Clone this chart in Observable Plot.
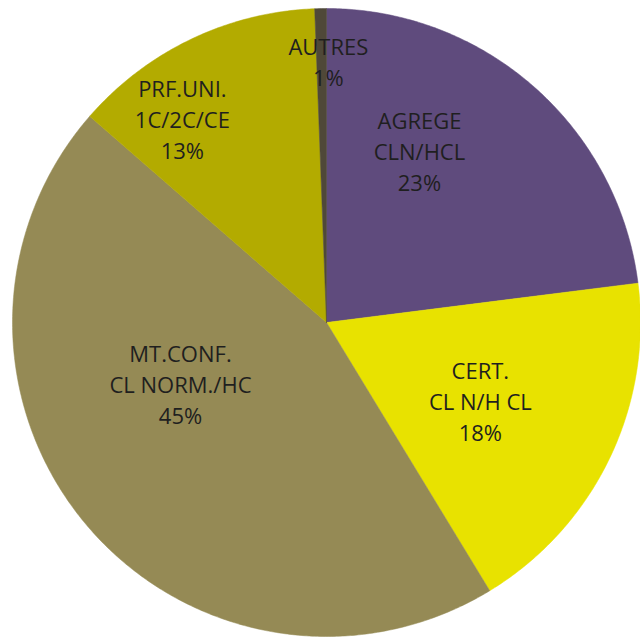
<!DOCTYPE html>
<html>
<head>
<meta charset="utf-8">
<script src="https://cdn.jsdelivr.net/npm/d3@7"></script>
<script src="https://cdn.jsdelivr.net/npm/@observablehq/plot@0.6"></script>
<style>
  html, body { margin: 0; padding: 0; background: #ffffff; }
  #chart svg { display: block; }
</style>
</head>
<body>
<div id="chart"></div>
<script>
// Data (clockwise from 12 o'clock)
const categories = ["AGREGE", "CERT", "MT.CONF", "PRF.UNI", "AUTRES"];
const labelTexts = ["AGREGE\nCLN/HCL", "CERT.\nCL N/H CL", "MT.CONF.\nCL NORM./HC", "PRF.UNI.\n1C/2C/CE", "AUTRES"];
const shares = [23.0, 18.3, 45.1, 13.0, 0.6];
const colors = ["#5f4b7d", "#e8e200", "#958a55", "#b3ab00", "#4f4838"];

// Layout: label anchor points in pie units (radius = 1), y up
const labelX = [0.296, 0.490, -0.465, -0.459, 0.006];
const labelY = [0.548, -0.248, -0.194, 0.650, 0.835];

// Build slice polygons from the shares
const total = d3.sum(shares);
const polys = [];
let cum = 0;
shares.forEach((v, i) => {
  const a0 = cum / total * 2 * Math.PI;
  cum += v;
  const a1 = cum / total * 2 * Math.PI;
  const n = Math.max(2, Math.ceil((a1 - a0) / (Math.PI / 360)));
  polys.push({cat: categories[i], x: 0, y: 0});
  for (let k = 0; k <= n; k++) {
    const a = a0 + (a1 - a0) * k / n;
    polys.push({cat: categories[i], x: Math.sin(a), y: Math.cos(a)});
  }
  polys.push({cat: categories[i], x: 0, y: 0});
});

const labels = categories.map((c, i) => ({
  cat: c,
  x: labelX[i],
  y: labelY[i],
  text: labelTexts[i] + "\n" + Math.round(shares[i]) + "%"
}));

const chart = Plot.plot({
  width: 640,
  height: 641,
  margin: 0,
  x: {domain: [-1, 1], range: [12, 640], axis: null},
  y: {domain: [-1, 1], range: [636, 8], axis: null},
  color: {domain: categories, range: colors},
  style: {background: "#ffffff"},
  marks: [
    Plot.line(polys, {x: "x", y: "y", z: "cat", fill: "cat", stroke: "cat", strokeWidth: 0.5, curve: "linear"}),
    Plot.text(labels, {
      x: "x", y: "y", text: "text",
      fill: "#1f1f1f",
      fontSize: 22,
      fontFamily: "'Open Sans', sans-serif",
      lineHeight: 1.41,
      textAnchor: "middle"
    })
  ]
});

document.getElementById("chart").appendChild(chart);
</script>
</body>
</html>
